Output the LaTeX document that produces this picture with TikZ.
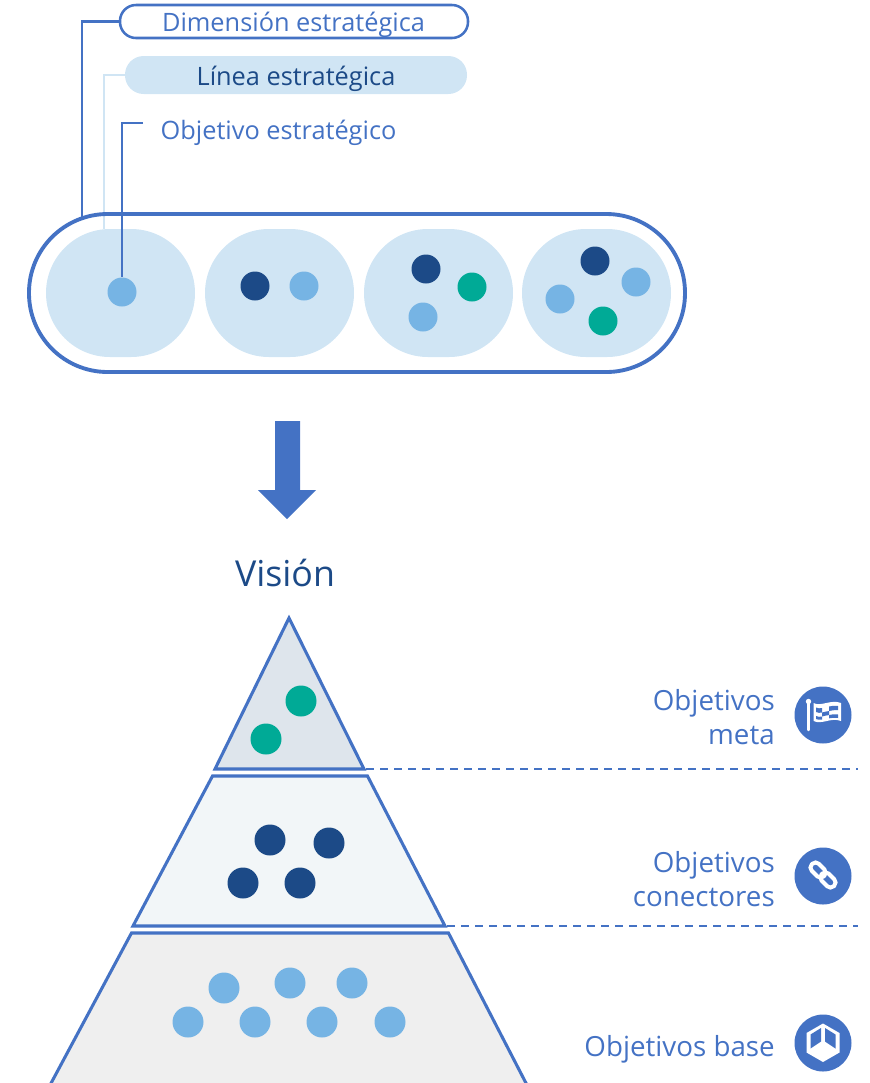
\documentclass[tikz,border=0pt]{standalone}
\usepackage{fontspec}
\setmainfont{Open Sans}
\usetikzlibrary{calc}
\definecolor{mainblue}{HTML}{4472C4}
\definecolor{navy}{HTML}{1C4A87}
\definecolor{pale}{HTML}{D0E5F4}
\definecolor{sky}{HTML}{76B4E4}
\definecolor{teal}{HTML}{00AA96}
\tikzset{
  x=0.75pt,y=-0.75pt,
  dotmark/.style={circle,inner sep=0pt,minimum size=#1},
  sdot/.style={dotmark=29*0.75pt},
  bdot/.style={dotmark=31*0.75pt},
  blob/.style={rectangle,fill=pale,rounded corners=48pt,minimum width=149*0.75pt,minimum height=128*0.75pt,inner sep=0pt},
  lab/.style={text=mainblue,font=\fontsize{20.8pt}{26pt}\selectfont,inner sep=0pt},
  toplab/.style={font=\fontsize{19pt}{20pt}\selectfont,inner sep=0pt},
  side/.style={lab,align=right,anchor=east},
  tier/.style={draw=mainblue,line width=2.3pt,line join=miter},
  guide/.style={draw=mainblue,line width=1.7pt},
  dashline/.style={draw=mainblue,line width=1.4pt,dash pattern=on 6pt off 4.5pt},
  iconbg/.style={circle,fill=mainblue,inner sep=0pt,minimum size=57*0.75pt},
}
\begin{document}
\begin{tikzpicture}
\useasboundingbox (0,0) rectangle (869,1083);
\begin{scope}
\clip (0,0) rectangle (869,1083);
% legend
\node[toplab,draw=mainblue,line width=1.9pt,rounded corners=12pt,minimum width=348*0.75pt,minimum height=33*0.75pt,text=mainblue,fill=white] (dim) at (294,21.5) {};
\node[toplab,text=mainblue] (dimt) at (293.5,25) {Dimensión estratégica};
\node[toplab,fill=pale,rounded corners=14pt,minimum width=342*0.75pt,minimum height=38*0.75pt] (lin) at (296,75) {};
\node[toplab,text=navy] (lint) at (296,79) {Línea estratégica};
\node[toplab,text=mainblue] (obj) at (278.5,133) {Objetivo estratégico};
\coordinate (objstub) at (143,123);
\coordinate (dimend) at (82,217);
\coordinate (linend) at (104,229);
% blobs
\node[blob] (b1) at (120.5,293) {};
\node[blob] (b2) at (279.5,293) {};
\node[blob] (b3) at (438.5,293) {};
\node[blob] (b4) at (596.5,293) {};
\draw[pale,line width=1.7pt] (lin.west) -| (linend);
\node[draw=mainblue,line width=2.9pt,rounded corners=59pt,minimum width=656*0.75pt,minimum height=158*0.75pt,inner sep=0pt] (outer) at (357,293) {};
\draw[guide] (dim.west) -| (dimend);
\node[sdot,fill=sky] (d11) at (122,292) {};
\draw[guide] (objstub) -| (d11.north);
\node[sdot,fill=navy] (d21) at (255,286) {};
\node[sdot,fill=sky] (d22) at (304,286) {};
\node[sdot,fill=navy] (d31) at (426,269) {};
\node[sdot,fill=teal] (d32) at (472,287) {};
\node[sdot,fill=sky] (d33) at (423,317) {};
\node[sdot,fill=navy] (d41) at (595,261) {};
\node[sdot,fill=sky] (d42) at (636,282) {};
\node[sdot,fill=sky] (d43) at (560,299) {};
\node[sdot,fill=teal] (d44) at (603,321) {};
% arrow
\fill[mainblue] (275,421) -- (300,421) -- (300,490) -- (316,490) -- (287,519) -- (258,490) -- (275,490) -- cycle;
\node[inner sep=0pt,text=navy,font=\fontsize{26.8pt}{30pt}\selectfont] (vis) at (285,573) {Visión};
% pyramid
\draw[tier,fill={rgb,255:red,222;green,229;blue,236}] (289,618) -- (364,769) -- (215,769) -- cycle;
\draw[tier,fill={rgb,255:red,242;green,246;blue,248}] (212.5,776) -- (367.5,776) -- (445,926) -- (133,926) -- cycle;
\draw[tier,fill={rgb,255:red,239;green,239;blue,239}] (131.5,933) -- (448.5,933) -- (528,1087) -- (49,1087) -- cycle;
\coordinate (tipa) at (366,769);
\coordinate (enda) at (858,769);
\coordinate (tipb) at (447,926);
\coordinate (endb) at (858,926);
\draw[dashline] (tipa) -- (enda);
\draw[dashline] (tipb) -- (endb);
\node[bdot,fill=teal] (t1) at (301,701) {};
\node[bdot,fill=teal] (t2) at (266,739) {};
\node[bdot,fill=navy] (m1) at (270,840) {};
\node[bdot,fill=navy] (m2) at (329,843) {};
\node[bdot,fill=navy] (m3) at (243,883) {};
\node[bdot,fill=navy] (m4) at (300,883) {};
\node[bdot,fill=sky] (l1) at (224,988) {};
\node[bdot,fill=sky] (l2) at (290,983) {};
\node[bdot,fill=sky] (l3) at (352,983) {};
\node[bdot,fill=sky] (l4) at (188,1022) {};
\node[bdot,fill=sky] (l5) at (255,1022) {};
\node[bdot,fill=sky] (l6) at (322,1022) {};
\node[bdot,fill=sky] (l7) at (390,1022) {};
% side labels
\node[side] (s1) at (775,717) {Objetivos\\meta};
\node[side] (s2) at (775,879) {Objetivos\\conectores};
\node[side] (s3) at (775,1049) {Objetivos base};
% flag icon
\node[iconbg] (i1) at (823,715) {};
\begin{scope}[shift={(823,715)}]
 \draw[white,line width=1.8pt,line cap=round] (-14.5,-13) -- (-14.5,15);
 \fill[white] (-14.5,-13.5) circle (2.7);
 \fill[white] (-9.5,-12) .. controls (-2,-8) and (8,-16) .. (18,-12) -- (18,6) .. controls (8,2) and (-1,10) .. (-9.5,6) -- cycle;
 \fill[mainblue] (-7,-7.5) .. controls (-5,-6.5) and (-3,-6.5) .. (-1,-7) -- (-1,-2.5) .. controls (-3,-2) and (-5,-2) .. (-7,-3) -- cycle;
 \fill[mainblue] (-1,-2.5) .. controls (1,-3) and (3,-3.5) .. (6,-4) -- (6,0) .. controls (3,.5) and (1,1) .. (-1,1.5) -- cycle;
 \fill[mainblue] (6,-8.5) .. controls (8,-9) and (11,-9.5) .. (15,-9) -- (15,-5) .. controls (11,-5) and (8,-4.5) .. (6,-4) -- cycle;
 \fill[mainblue] (-7,1) .. controls (-5,2) and (-3,2) .. (-1,1.5) -- (-1,4.5) .. controls (-3,5) and (-5,4.8) .. (-7,4) -- cycle;
 \fill[mainblue] (6,0) .. controls (8,-.5) and (11,-1) .. (15,-.5) -- (15,3) .. controls (11,2.5) and (8,3) .. (6,3.3) -- cycle;
\end{scope}
% link icon
\node[iconbg] (i2) at (823,876) {};
\begin{scope}[shift={(823,875)},rotate=-45]
 \draw[white,line width=3pt,rounded corners=3.5pt] (-15.5,-5) rectangle (1.5,5);
 \draw[white,line width=3pt,rounded corners=3.5pt] (-1.5,-5) rectangle (15.5,5);
\end{scope}
% box icon
\node[iconbg] (i3) at (823,1043) {};
\begin{scope}[shift={(823,1043)}]
 \fill[white] (0,-19.5) -- (16.5,-10) -- (16.5,9.5) -- (0,19) -- (-16.5,9.5) -- (-16.5,-10) -- cycle;
 \fill[mainblue] (-2,-15) -- (-2,-1.5) -- (-12.5,5.5) -- (-12.5,-8.5) -- cycle;
 \fill[mainblue] (2,-15) -- (2,-1.5) -- (12.5,5.5) -- (12.5,-8.5) -- cycle;
\end{scope}
\end{scope}
\end{tikzpicture}
\end{document}
